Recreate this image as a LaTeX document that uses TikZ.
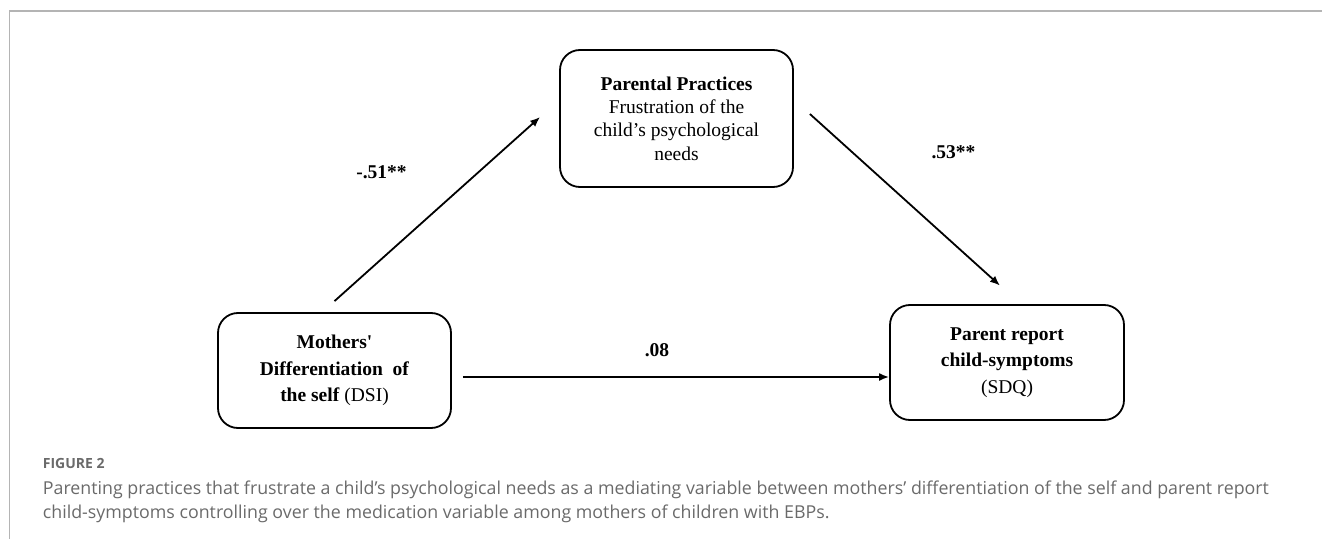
\documentclass[tikz,border=0pt]{standalone}
\usepackage{fontspec}
\usepackage{tikz}
\usetikzlibrary{arrows.meta,positioning}
\newfontfamily\boxfont{Liberation Serif}
\newfontfamily\capfont{Open Sans}
\definecolor{framegray}{HTML}{B4B4B4}
\definecolor{capgray}{HTML}{6A6A6A}

\begin{document}
\begin{tikzpicture}[->,>={Latex[length=10pt,width=8pt]},x=1pt,y=1pt,line width=1.8pt]
    \tikzstyle{box}=[draw,rounded corners=20pt,align=center,font=\boxfont\fontsize{19.5}{26.5}\selectfont]
    \tikzstyle{coef}=[font=\boxfont\bfseries\fontsize{19.5}{23}\selectfont]
    \useasboundingbox (0,0) rectangle (1322,539);
    \draw[-,framegray,line width=1.3pt] (1322,528) -| (9.5,0);

    \node[box,minimum width=233pt,minimum height=137pt,font=\boxfont\fontsize{19.5}{23.3}\selectfont]
        (P) at (676.5,420.5) {\textbf{Parental Practices}\\Frustration of the\\child’s psychological\\needs};
    \node[box,minimum width=233pt,minimum height=115pt]
        (M) at (334.5,168.5) {\textbf{Mothers'}\\\textbf{Differentiation\ \ of}\\\textbf{the self} (DSI)};
    \node[box,minimum width=234pt,minimum height=115pt]
        (S) at (1007,176.5) {\textbf{Parent report}\\\textbf{child-symptoms}\\(SDQ)};

    \coordinate (m1) at ([yshift=11pt]M.north);
    \coordinate (p1) at ([xshift=-19pt,yshift=1.5pt]P.west);
    \coordinate (p2) at ([xshift=16pt,yshift=4.5pt]P.east);
    \coordinate (s1) at ([xshift=-7pt,yshift=18.5pt]S.north);
    \coordinate (m2) at ([xshift=11pt,yshift=-6.5pt]M.east);

    \path (m1) edge node[coef,xshift=-55.75pt,yshift=36.75pt] {-.51**} (p1);
    \path (p2) edge node[coef,xshift=48.5pt,yshift=47.5pt] {.53**} (s1);
    \path (m2) edge node[coef,xshift=-19pt,yshift=27pt] {.08} (S.west |- m2);

    % caption under the figure
    \node[anchor=base west,inner sep=0pt,text=capgray,font=\capfont\bfseries\fontsize{14}{16}\selectfont]
        (fig) at (42,71) {FIGURE 2};
    \node[anchor=base west,align=left,inner sep=0pt,text=capgray,font=\capfont\fontsize{17.8}{24}\selectfont]
        (cap) at (42,20.5) {Parenting practices that frustrate a child’s psychological needs as a mediating variable between mothers’ differentiation of the self and parent report\\child-symptoms controlling over the medication variable among mothers of children with EBPs.};
\end{tikzpicture}
\end{document}
